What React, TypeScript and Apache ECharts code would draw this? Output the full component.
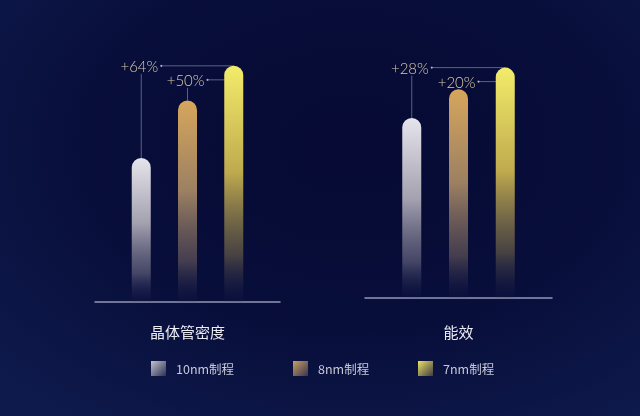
import { useEffect, useRef } from 'react'
import * as echarts from 'echarts'

// Process nodes (legend) and the two comparison groups
const processes = ['10nm制程', '8nm制程', '7nm制程']
const groups = ['晶体管密度', '能效']

// Relative values (10nm = 100)
const densityValues = [100, 140, 164]
const efficiencyValues = [100, 116, 128]

// Gain labels, one per older node
const densityGains = ['+64%', '+50%']
const efficiencyGains = ['+28%', '+20%']

const CJK = '"Noto Sans CJK SC", "Noto Sans", sans-serif'
const NOTE_LINE = 'rgba(150,152,180,0.75)'

const barTop = ['#e6e4ec', '#d6a65c', '#f3ec6a']
const barMid = ['#a4a1b0', '#9c8062', '#bfaa4e']
const barLow = ['rgba(95,94,122,0.7)', 'rgba(95,82,88,0.7)', 'rgba(100,90,70,0.7)']
const legendTop = ['#c4c2cc', '#c9a060', '#ece264']
const legendBottom = ['#2c2f55', '#3a3352', '#3e3c44']

function barGradient(i: number) {
  return new echarts.graphic.LinearGradient(0, 0, 0, 1, [
    { offset: 0, color: barTop[i] },
    { offset: 0.45, color: barMid[i] },
    { offset: 0.8, color: barLow[i] },
    { offset: 1, color: 'rgba(30,34,80,0.08)' },
  ])
}

function legendGradient(i: number) {
  return new echarts.graphic.LinearGradient(0, 0, 1, 1, [
    { offset: 0, color: legendTop[i] },
    { offset: 1, color: legendBottom[i] },
  ])
}

function barSeries(gridIdx: number, values: number[]) {
  return processes.map((name, i) => ({
    type: 'bar',
    name,
    xAxisIndex: gridIdx,
    yAxisIndex: gridIdx,
    z: 2,
    barWidth: 19,
    barGap: '-100%',
    silent: true,
    data: [[i + 1, values[i]]],
    itemStyle: { color: barGradient(i), borderRadius: [9.5, 9.5, 0, 0] },
  }))
}

// Annotation: vertical leader from an older node's bar top, label, and a
// horizontal leader running across to the 7nm bar
function noteSeries(gridIdx: number, values: number[], gains: string[]) {
  const last = values.length - 1
  const data = gains.map((_, i) => [i + 1, values[i], last + 1, values[last], i])
  return {
    type: 'custom',
    xAxisIndex: gridIdx,
    yAxisIndex: gridIdx,
    z: 1,
    silent: true,
    encode: { x: [0, 2], y: [1, 3] },
    data,
    renderItem: (params: any, api: any) => {
      const from = api.coord([api.value(0), api.value(1)])
      const to = api.coord([api.value(2), api.value(3)])
      const level = to[1] + api.value(4) * 14
      const x0 = from[0]
      return {
        type: 'group',
        children: [
          {
            type: 'text',
            style: {
              text: gains[params.dataIndex],
              x: x0 + 17,
              y: level,
              align: 'right',
              verticalAlign: 'middle',
              fill: '#dccba6',
              fontSize: 15,
              fontWeight: 300,
              fontFamily: 'Lato, "Noto Sans", sans-serif',
            },
          },
          {
            type: 'line',
            shape: { x1: x0, y1: from[1], x2: x0, y2: level + 8 },
            style: { stroke: NOTE_LINE, lineWidth: 0.8 },
          },
          {
            type: 'line',
            shape: { x1: x0 + 20, y1: level, x2: to[0], y2: level },
            style: { stroke: NOTE_LINE, lineWidth: 0.8 },
          },
          {
            type: 'circle',
            shape: { cx: x0 + 20, cy: level, r: 1.1 },
            style: { fill: 'rgba(190,190,210,0.9)' },
          },
        ],
      }
    },
  }
}

function xAxis(gridIdx: number, nameGap: number) {
  return {
    type: 'value',
    gridIndex: gridIdx,
    min: 0,
    max: 4,
    name: groups[gridIdx],
    nameLocation: 'middle',
    nameGap,
    nameTextStyle: { color: '#ececf4', fontSize: 15, fontFamily: CJK },
    axisLine: { show: true, lineStyle: { color: '#9396b6', width: 1.5 } },
    axisTick: { show: false },
    axisLabel: { show: false },
    splitLine: { show: false },
  }
}

function yAxis(gridIdx: number, max: number) {
  return { type: 'value', gridIndex: gridIdx, min: 0, max, show: false, splitLine: { show: false } }
}

const legendLeft = [151, 293, 418]

export default function App() {
  const ref = useRef<HTMLDivElement>(null)

  useEffect(() => {
    if (!ref.current) return
    const chart = echarts.init(ref.current, undefined, { renderer: 'svg' })
    chart.setOption({
      animation: false,
      backgroundColor: 'transparent',
      grid: [
        { left: 95, width: 185, top: 50, height: 252, outerBoundsMode: 'none' },
        { left: 365, width: 187, top: 46, height: 252, outerBoundsMode: 'none' },
      ],
      xAxis: [xAxis(0, 22), xAxis(1, 26)],
      yAxis: [yAxis(0, 175), yAxis(1, 140)],
      legend: processes.map((name, i) => ({
        data: [{ name, itemStyle: { color: legendGradient(i) } }],
        left: legendLeft[i],
        top: 361,
        padding: 0,
        icon: 'rect',
        itemWidth: 15,
        itemHeight: 15,
        selectedMode: false,
        textStyle: { color: '#c8c9d8', fontSize: 12.5, fontFamily: CJK, padding: [0, 0, 0, 5] },
      })),
      series: [
        ...barSeries(0, densityValues),
        ...barSeries(1, efficiencyValues),
        noteSeries(0, densityValues, densityGains),
        noteSeries(1, efficiencyValues, efficiencyGains),
      ],
    })
    return () => chart.dispose()
  }, [])

  return (
    <div
      style={{
        position: 'fixed',
        left: 0,
        top: 0,
        width: 640,
        height: 416,
        background:
          'radial-gradient(ellipse 75% 80% at 55% 35%, #060a34 0%, #080e3a 55%, #0e1a4c 100%)',
      }}
    >
      <div ref={ref} style={{ width: 640, height: 416 }} />
    </div>
  )
}
